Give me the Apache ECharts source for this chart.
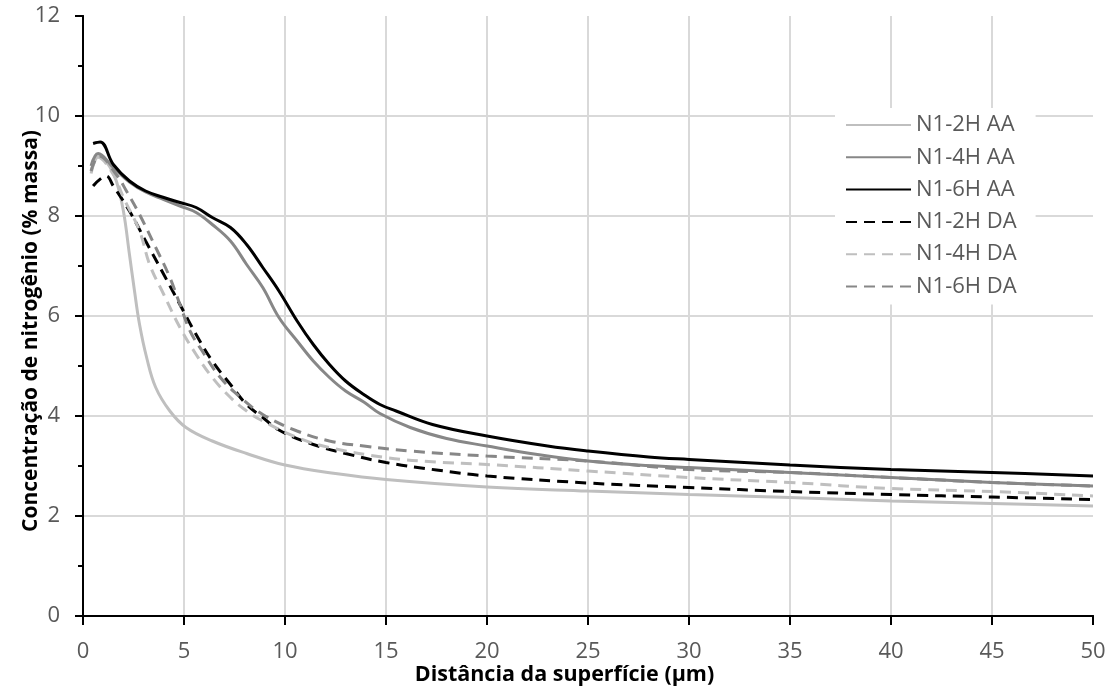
<!DOCTYPE html>
<html>
<head>
<meta charset="utf-8">
<script src="https://cdn.jsdelivr.net/npm/echarts@6/dist/echarts.min.js"></script>
<style>
  html, body { margin: 0; padding: 0; background: #fff; }
  #chart { width: 1114px; height: 690px; }
</style>
</head>
<body>
<div id="chart"></div>
<script>
const seriesNames = ['N1-2H AA', 'N1-4H AA', 'N1-6H AA', 'N1-2H DA', 'N1-4H DA', 'N1-6H DA'];

// N1-2H AA
const x2hAA = [0.4, 0.8, 1.3, 1.65, 2.0, 2.3, 2.55, 2.8, 3.15, 3.6, 4.3, 5.1, 6.4, 8.1, 10, 12.5, 15, 20, 25, 30, 35, 40, 45, 50];
const y2hAA = [8.9, 9.2, 9.0, 8.7, 8.1, 7.23, 6.5, 5.83, 5.17, 4.57, 4.1, 3.77, 3.5, 3.25, 3.02, 2.85, 2.73, 2.58, 2.5, 2.43, 2.37, 2.3, 2.25, 2.2];

// N1-4H AA
const x4hAA = [0.4, 0.75, 1.5, 2.3, 3.1, 4.0, 4.8, 5.6, 6.4, 7.3, 8.1, 8.9, 9.7, 10.6, 11.4, 12.2, 13.0, 13.9, 14.7, 16.2, 18, 20, 22.5, 25, 27.5, 30, 35, 40, 45, 50];
const y4hAA = [9.0, 9.25, 8.97, 8.68, 8.48, 8.33, 8.2, 8.07, 7.83, 7.5, 7.03, 6.57, 5.97, 5.5, 5.1, 4.77, 4.5, 4.28, 4.05, 3.77, 3.55, 3.4, 3.23, 3.1, 3.02, 2.97, 2.87, 2.77, 2.67, 2.6];

// N1-6H AA
const x6hAA = [0.5, 0.85, 1.5, 2.3, 3.1, 4.0, 4.8, 5.6, 6.4, 7.3, 8.1, 8.9, 9.7, 10.6, 11.4, 12.2, 13.0, 13.9, 14.7, 15.5, 17.3, 20, 23, 25, 28, 30, 35, 40, 45, 50];
const y6hAA = [9.45, 9.48, 9.03, 8.7, 8.5, 8.37, 8.27, 8.17, 7.97, 7.77, 7.43, 6.97, 6.5, 5.9, 5.43, 5.03, 4.7, 4.43, 4.23, 4.1, 3.83, 3.6, 3.4, 3.3, 3.18, 3.13, 3.02, 2.93, 2.87, 2.8];

// N1-2H DA
const x2hDA = [0.5, 1.15, 1.5, 2.3, 3.1, 4.0, 4.8, 5.6, 6.4, 7.3, 8.1, 8.9, 9.7, 11.4, 13.0, 15, 17.5, 20, 25, 30, 35, 40, 45, 50];
const y2hDA = [8.6, 8.8, 8.6, 8.1, 7.5, 6.83, 6.23, 5.63, 5.1, 4.63, 4.23, 3.97, 3.72, 3.43, 3.25, 3.07, 2.92, 2.8, 2.66, 2.57, 2.49, 2.43, 2.38, 2.33];

// N1-4H DA
const x4hDA = [0.4, 0.75, 1.5, 2.0, 2.8, 3.3, 4.0, 4.8, 5.6, 6.4, 7.3, 8.1, 8.9, 10.6, 12.2, 15, 17.5, 20, 25, 30, 35, 40, 45, 50];
const y4hDA = [8.85, 9.17, 8.83, 8.37, 7.7, 7.03, 6.43, 5.77, 5.23, 4.77, 4.37, 4.1, 3.9, 3.57, 3.37, 3.17, 3.08, 3.03, 2.9, 2.77, 2.67, 2.55, 2.49, 2.4];

// N1-6H DA
const x6hDA = [0.4, 0.8, 1.65, 2.15, 2.8, 3.6, 4.3, 4.8, 5.3, 5.9, 6.8, 7.8, 8.9, 10.6, 12.2, 13.9, 16.2, 20, 25, 30, 35, 40, 45, 50];
const y6hDA = [8.9, 9.2, 8.83, 8.5, 8.03, 7.37, 6.77, 6.23, 5.7, 5.3, 4.77, 4.37, 4.03, 3.7, 3.5, 3.4, 3.3, 3.2, 3.1, 2.93, 2.87, 2.77, 2.67, 2.6];

const xs = [x2hAA, x4hAA, x6hAA, x2hDA, x4hDA, x6hDA];
const ys = [y2hAA, y4hAA, y6hAA, y2hDA, y4hDA, y6hDA];
const colors = ['#bfbfbf', '#878787', '#000000', '#000000', '#bfbfbf', '#878787'];
const dashed = [false, false, false, true, true, true];

const font = '"Open Sans", "Liberation Sans", sans-serif';
const labelColor = '#595959';

const chart = echarts.init(document.getElementById('chart'));

chart.setOption({
  animation: false,
  textStyle: { fontFamily: font },
  grid: { left: 83, right: 21, top: 16, bottom: 74, containLabel: false, outerBoundsMode: 'none' },
  legend: {
    orient: 'vertical',
    left: 835,
    top: 108,
    padding: [6, 19, 7, 10],
    backgroundColor: '#fff',
    itemWidth: 65,
    itemHeight: 14,
    itemGap: 10.3,
    data: seriesNames,
    itemStyle: { color: 'transparent', borderWidth: 0, opacity: 0 },
    textStyle: { fontSize: 22, color: labelColor, fontFamily: font }
  },
  xAxis: [
    {
      type: 'value',
      min: 0,
      max: 50,
      interval: 5,
      name: 'Distância da superfície (µm)',
      nameLocation: 'middle',
      nameMoveOverlap: false,
      nameGap: 48,
      nameTextStyle: { fontSize: 21.5, fontWeight: 'bold', color: '#000', padding: [0, 47, 0, 0] },
      axisLine: { lineStyle: { color: '#000', width: 2 } },
      axisTick: { length: 9, lineStyle: { color: '#000', width: 2 } },
      axisLabel: { fontSize: 22, color: labelColor, margin: 25 },
      splitLine: { show: true, showMinLine: false, showMaxLine: false, lineStyle: { color: '#d9d9d9', width: 2 } }
    },
    {
      type: 'value',
      position: 'top',
      min: 0,
      max: 50,
      axisLine: { show: true, lineStyle: { color: '#000', width: 2 } },
      axisTick: { show: false },
      axisLabel: { show: false },
      splitLine: { show: false }
    }
  ],
  yAxis: [
    {
      type: 'value',
      min: 0,
      max: 12,
      interval: 2,
      name: 'Concentração de nitrogênio (% massa)',
      nameLocation: 'middle',
      nameMoveOverlap: false,
      nameGap: 41,
      nameTextStyle: { fontSize: 21, fontWeight: 'bold', color: '#000', padding: [0, 30, 0, 0] },
      axisLine: { show: true, lineStyle: { color: '#000', width: 2 } },
      axisTick: { show: true, length: 8, lineStyle: { color: '#000', width: 2 } },
      minorTick: { show: true, splitNumber: 2, length: 5, lineStyle: { color: '#000', width: 2 } },
      axisLabel: { fontSize: 22, color: labelColor, margin: 23 },
      splitLine: { show: true, showMinLine: false, showMaxLine: false, lineStyle: { color: '#d9d9d9', width: 2 } }
    },
    {
      type: 'value',
      position: 'right',
      min: 0,
      max: 12,
      axisLine: { show: true, lineStyle: { color: '#000', width: 2 } },
      axisTick: { show: false },
      axisLabel: { show: false },
      splitLine: { show: false }
    }
  ],
  series: seriesNames.map((name, i) => ({
    name: name,
    type: 'line',
    xAxisIndex: 0,
    yAxisIndex: 0,
    symbol: 'none',
    smooth: 0.4,
    data: xs[i].map((x, j) => [x, ys[i][j]]),
    lineStyle: {
      color: colors[i],
      width: 3,
      type: dashed[i] ? [11, 7] : 'solid'
    },
    itemStyle: { color: colors[i] }
  }))
});
</script>
</body>
</html>
